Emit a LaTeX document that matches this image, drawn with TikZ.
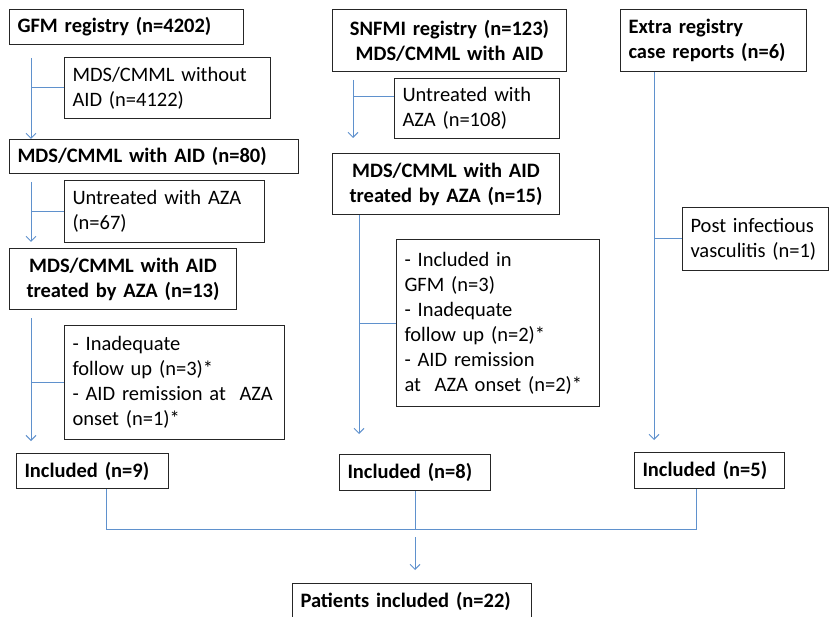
\documentclass[tikz,border=0pt]{standalone}
\usepackage{fontspec}
\setmainfont{Carlito}
\usetikzlibrary{arrows.meta}
\usetikzlibrary{calc}
\definecolor{flowblue}{RGB}{95,145,205}

\begin{document}
\begin{tikzpicture}[x=1pt, y=-1pt,
	box/.style = {draw=black!85, line width=1pt, anchor=north west, inner xsep=8pt, inner ysep=2pt,
		align=left, font=\fontsize{20.5}{25}\selectfont},
	mainbox/.style = {box, font=\fontsize{20.5}{25}\selectfont\bfseries},
	flow/.style = {draw=flowblue, line width=1pt, -{Straight Barb[length=5pt, width=10pt]}},
	branch/.style = {draw=flowblue, line width=1pt}]

	\useasboundingbox (0,0) rectangle (829,617);
	\clip (0,0) rectangle (829,617);

	% GFM
	\node[mainbox, text width=218pt, minimum height=35pt] (gfm) at (9,9) {GFM registry (n=4202)};
	\node[box, text width=190pt, minimum height=61pt] (ex1) at (64,57) {MDS/CMML without\\AID (n=4122)};
	\node[mainbox, text width=273pt, minimum height=34pt] (mds80) at (9,139) {MDS/CMML with AID (n=80)};
	\node[box, text width=184pt, minimum height=62pt] (ex2) at (64,180) {Untreated with AZA\\(n=67)};
	\node[mainbox, align=center, text width=211pt, minimum height=61pt] (aza13) at (9,248) {MDS/CMML with AID\\treated by AZA (n=13)};
	\node[box, text width=204pt, minimum height=114pt] (ex3) at (64,325) {- Inadequate\\follow up (n=3)*\\- AID remission at~ AZA\\onset (n=1)*};
	\node[mainbox, text width=136pt, minimum height=35pt] (inc9) at (16,453) {Included (n=9)};

	% SNFMI
	\node[mainbox, align=center, text width=218pt, minimum height=62pt] (snfmi) at (332,9) {SNFMI registry (n=123)\\MDS/CMML with AID};
	\node[box, text width=149pt, minimum height=60pt] (ex4) at (394,78) {Untreated with\\AZA (n=108)};
	\node[mainbox, align=center, text width=211pt, minimum height=61pt] (aza15) at (332,153) {MDS/CMML with AID\\treated by AZA (n=15)};
	\node[box, text width=187pt, minimum height=167pt] (ex5) at (396,239) {- Included in\\GFM (n=3)\\- Inadequate\\follow up (n=2)*\\- AID remission\\at~ AZA onset (n=2)*};
	\node[mainbox, text width=135pt, minimum height=36pt] (inc8) at (339,454) {Included (n=8)};

	% extra registry
	\node[mainbox, text width=170pt, minimum height=62pt] (extra) at (620,9) {Extra registry\\case reports (n=6)};
	\node[box, text width=130pt, minimum height=63pt] (ex6) at (682,207) {Post infectious\\vasculitis (n=1)};
	\node[mainbox, text width=134pt, minimum height=36pt] (inc5) at (634,452) {Included (n=5)};

	\node[mainbox, text width=223pt, minimum height=36pt] (pat) at (292,583) {Patients included (n=22)};

	\coordinate (c1) at (31,0);
	\coordinate (c2a) at (353,0);
	\coordinate (c2b) at (359,0);
	\coordinate (c3) at (654,0);
	\coordinate (m) at (0,529);

	\draw[flow] ($(gfm.south -| c1)+(0,13)$) -- (mds80.north -| c1);
	\draw[branch] (ex1.west) -- (ex1.west -| c1);
	\draw[flow] ($(mds80.south -| c1)+(0,8)$) -- ($(aza13.north -| c1)+(0,-6)$);
	\draw[branch] (ex2.west) -- (ex2.west -| c1);
	\draw[flow] ($(aza13.south -| c1)+(0,8)$) -- ($(inc9.north -| c1)+(0,-12)$);
	\draw[branch] (ex3.west) -- (ex3.west -| c1);

	\draw[flow] ($(snfmi.south -| c2a)+(0,8)$) -- ($(aza15.north -| c2a)+(0,-15)$);
	\draw[branch] ($(ex4.north west)+(0,19)$) coordinate (b4) -- (b4 -| c2a);
	\draw[flow] (aza15.south -| c2b) -- ($(inc8.north -| c2b)+(0,-20)$);
	\draw[branch] (ex5.west) -- (ex5.west -| c2b);

	\draw[flow] (extra.south -| c3) -- ($(inc5.north -| c3)+(0,-12)$);
	\draw[branch] (ex6.west) -- (ex6.west -| c3);

	\coordinate (j9) at ($(inc9.south)+(14,0)$);
	\coordinate (j5) at ($(inc5.south)+(-13,0)$);
	\draw[branch] (j9) -- (j9 |- m) -- (j5 |- m) -- (j5);
	\draw[branch] (inc8.south) -- (inc8.south |- m);
	\draw[flow] ($(inc8.south |- m)+(0,8)$) -- ($(pat.north -| inc8.south)+(0,-13)$);

\end{tikzpicture}
\end{document}
